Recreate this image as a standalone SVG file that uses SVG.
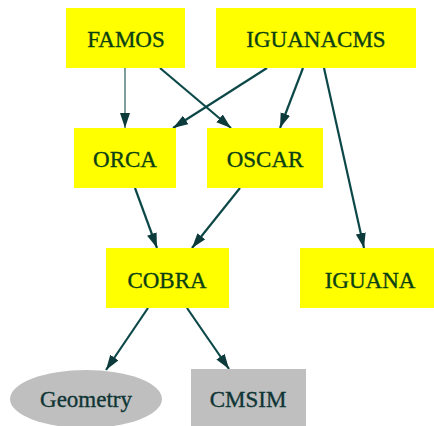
<svg xmlns="http://www.w3.org/2000/svg" width="434" height="426" viewBox="0 0 434 426">
<defs>
<style>
.y{fill:#ffff00;}
.g{fill:#bfbfbf;}
.t{font-family:"Liberation Serif","Times New Roman",serif;font-size:23px;text-anchor:middle;fill:#0b3f14;stroke:#0b3f14;stroke-width:0.35;}
.tg{font-family:"Liberation Serif","Times New Roman",serif;font-size:23px;text-anchor:middle;fill:#0f3535;stroke:#0f3535;stroke-width:0.35;}
.e{stroke:#0d4848;stroke-width:2.2;fill:none;marker-end:url(#ah);}
.e1{stroke:#3a6a66;stroke-width:1.3;fill:none;marker-end:url(#ah);}
</style>
<marker id="ah" markerUnits="userSpaceOnUse" markerWidth="16" markerHeight="12" refX="15" refY="5" orient="auto">
<path d="M0,0 L15,5 L0,10 Z" fill="#0d3a3a"/>
</marker>
</defs>
<rect width="434" height="426" fill="#ffffff"/>
<g id="connectors">
<line class="e1" x1="125" y1="68" x2="125" y2="128"/>
<line class="e" x1="160" y1="68" x2="231" y2="128"/>
<line class="e" x1="267" y1="68" x2="173" y2="128"/>
<line class="e" x1="303" y1="68" x2="280" y2="128"/>
<line class="e" x1="324" y1="68" x2="364" y2="248"/>
<line class="e" x1="135" y1="188" x2="157" y2="248"/>
<line class="e" x1="240" y1="188" x2="192" y2="248"/>
<line class="e" x1="148" y1="308" x2="106" y2="370"/>
<line class="e" x1="187" y1="308" x2="229" y2="369"/>
</g>
<g id="FAMOS"><rect class="y" x="66" y="8" width="119" height="60"/><text class="t" x="126" y="46.5">FAMOS</text></g>
<g id="IGUANACMS"><rect class="y" x="216" y="8" width="200" height="60"/><text class="t" x="316" y="46.5">IGUANACMS</text></g>
<g id="ORCA"><rect class="y" x="74" y="128" width="102" height="60"/><text class="t" x="125" y="166.5">ORCA</text></g>
<g id="OSCAR"><rect class="y" x="207" y="128" width="116" height="60"/><text class="t" x="265" y="166.5">OSCAR</text></g>
<g id="COBRA"><rect class="y" x="106" y="248" width="123" height="60"/><text class="t" x="167" y="287.5">COBRA</text></g>
<g id="IGUANA"><rect class="y" x="300" y="248" width="140" height="60"/><text class="t" x="370" y="287.5">IGUANA</text></g>
<g id="Geometry"><ellipse class="g" cx="86" cy="399" rx="76" ry="29"/><text class="tg" x="86" y="406.5">Geometry</text></g>
<g id="CMSIM"><rect class="g" x="191" y="369" width="115" height="62"/><text class="tg" x="248" y="406.5">CMSIM</text></g>
</svg>
